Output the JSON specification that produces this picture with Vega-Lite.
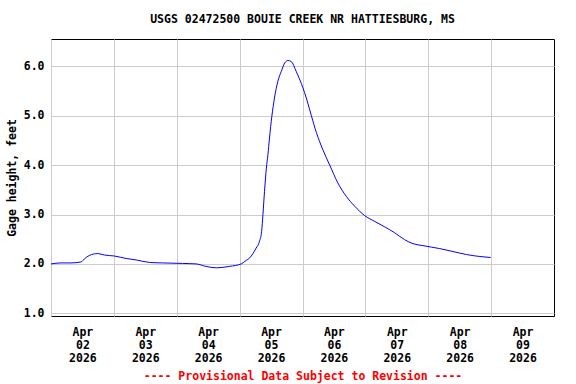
{
  "$schema": "https://vega.github.io/schema/vega-lite/v6.json",
  "width": 503,
  "height": 277,
  "autosize": "none",
  "padding": {"left": 51, "top": 39, "right": 22, "bottom": 68},
  "title": {
    "text": "USGS 02472500 BOUIE CREEK NR HATTIESBURG, MS",
    "font": "DejaVu Sans Mono",
    "fontSize": 11.5,
    "fontWeight": "bold",
    "color": "black",
    "anchor": "middle",
    "frame": "group",
    "offset": 14
  },
  "config": {
    "view": {"stroke": "black", "strokeWidth": 1},
    "axis": {
      "labelFont": "DejaVu Sans Mono",
      "labelFontWeight": "bold",
      "labelFontSize": 11.5,
      "labelColor": "black",
      "titleFont": "DejaVu Sans Mono",
      "titleFontWeight": "bold",
      "titleFontSize": 11.5,
      "gridColor": "#cccccc",
      "gridOpacity": 1,
      "gridWidth": 1,
      "domain": false,
      "ticks": false
    }
  },
  "data": {
    "values": [
      {"t": "2026-04-02T00:00", "v": 2.00},
      {"t": "2026-04-02T03:48", "v": 2.02},
      {"t": "2026-04-02T07:36", "v": 2.02},
      {"t": "2026-04-02T11:30", "v": 2.04},
      {"t": "2026-04-02T12:42", "v": 2.10},
      {"t": "2026-04-02T14:36", "v": 2.17},
      {"t": "2026-04-02T17:48", "v": 2.21},
      {"t": "2026-04-02T20:24", "v": 2.18},
      {"t": "2026-04-03T00:12", "v": 2.16},
      {"t": "2026-04-03T04:42", "v": 2.11},
      {"t": "2026-04-03T08:30", "v": 2.08},
      {"t": "2026-04-03T13:36", "v": 2.03},
      {"t": "2026-04-03T18:30", "v": 2.02},
      {"t": "2026-04-04T02:12", "v": 2.01},
      {"t": "2026-04-04T07:24", "v": 2.00},
      {"t": "2026-04-04T11:12", "v": 1.95},
      {"t": "2026-04-04T15:06", "v": 1.92},
      {"t": "2026-04-04T20:06", "v": 1.95},
      {"t": "2026-04-05T00:36", "v": 2.00},
      {"t": "2026-04-05T02:30", "v": 2.07},
      {"t": "2026-04-05T03:48", "v": 2.12},
      {"t": "2026-04-05T06:18", "v": 2.32},
      {"t": "2026-04-05T07:36", "v": 2.46},
      {"t": "2026-04-05T08:24", "v": 2.66},
      {"t": "2026-04-05T08:54", "v": 3.00},
      {"t": "2026-04-05T09:30", "v": 3.47},
      {"t": "2026-04-05T10:12", "v": 3.94},
      {"t": "2026-04-05T10:48", "v": 4.21},
      {"t": "2026-04-05T11:24", "v": 4.55},
      {"t": "2026-04-05T12:18", "v": 4.99},
      {"t": "2026-04-05T13:18", "v": 5.36},
      {"t": "2026-04-05T14:36", "v": 5.70},
      {"t": "2026-04-05T15:54", "v": 5.90},
      {"t": "2026-04-05T17:12", "v": 6.07},
      {"t": "2026-04-05T18:24", "v": 6.12},
      {"t": "2026-04-05T19:42", "v": 6.10},
      {"t": "2026-04-05T21:36", "v": 5.90},
      {"t": "2026-04-05T23:30", "v": 5.66},
      {"t": "2026-04-06T00:48", "v": 5.47},
      {"t": "2026-04-06T03:24", "v": 5.00},
      {"t": "2026-04-06T05:18", "v": 4.66},
      {"t": "2026-04-06T07:48", "v": 4.31},
      {"t": "2026-04-06T10:24", "v": 4.00},
      {"t": "2026-04-06T13:30", "v": 3.64},
      {"t": "2026-04-06T16:42", "v": 3.37},
      {"t": "2026-04-06T19:54", "v": 3.17},
      {"t": "2026-04-06T23:42", "v": 2.98},
      {"t": "2026-04-07T03:36", "v": 2.86},
      {"t": "2026-04-07T07:24", "v": 2.75},
      {"t": "2026-04-07T11:12", "v": 2.63},
      {"t": "2026-04-07T15:00", "v": 2.49},
      {"t": "2026-04-07T18:12", "v": 2.41},
      {"t": "2026-04-07T22:00", "v": 2.37},
      {"t": "2026-04-08T04:24", "v": 2.31},
      {"t": "2026-04-08T09:30", "v": 2.25},
      {"t": "2026-04-08T14:36", "v": 2.19},
      {"t": "2026-04-08T19:42", "v": 2.15},
      {"t": "2026-04-08T23:48", "v": 2.13}
    ]
  },
  "mark": {"type": "line", "color": "#0000ff", "strokeWidth": 1, "interpolate": "monotone", "clip": true},
  "encoding": {
    "x": {
      "field": "t",
      "type": "temporal",
      "scale": {
        "domain": [
          {"year": 2026, "month": 4, "date": 2},
          {"year": 2026, "month": 4, "date": 10}
        ]
      },
      "axis": {
        "values": [
          {"year": 2026, "month": 4, "date": 2},
          {"year": 2026, "month": 4, "date": 3},
          {"year": 2026, "month": 4, "date": 4},
          {"year": 2026, "month": 4, "date": 5},
          {"year": 2026, "month": 4, "date": 6},
          {"year": 2026, "month": 4, "date": 7},
          {"year": 2026, "month": 4, "date": 8},
          {"year": 2026, "month": 4, "date": 9}
        ],
        "labelExpr": "[timeFormat(datum.value, '%b'), timeFormat(datum.value, '%d'), timeFormat(datum.value, '%Y')]",
        "labelOffset": 31.4,
        "labelPadding": 10,
        "labelLineHeight": 13,
        "labelAlign": "center",
        "labelBaseline": "top",
        "title": "---- Provisional Data Subject to Revision ----",
        "titleColor": "#ff0000",
        "titlePadding": 7
      }
    },
    "y": {
      "field": "v",
      "type": "quantitative",
      "scale": {"domain": [0.945, 6.556], "nice": false, "zero": false},
      "axis": {
        "values": [1, 2, 3, 4, 5, 6],
        "format": ".1f",
        "labelPadding": 7,
        "title": "Gage height, feet",
        "titlePadding": 6
      }
    }
  }
}
